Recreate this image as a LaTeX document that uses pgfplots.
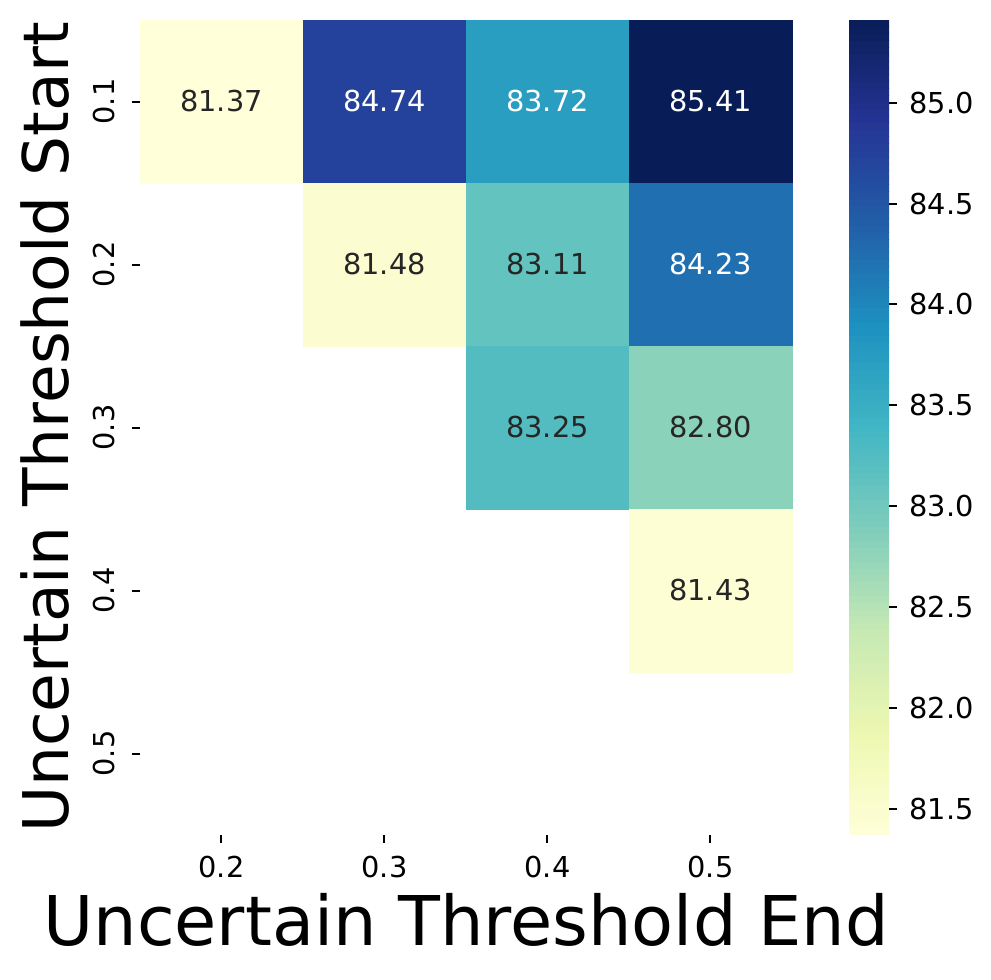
\documentclass[border=0pt]{standalone}
\usepackage{fontspec}
\setmainfont{DejaVu Sans}
\usepackage{pgfplots}
\pgfplotsset{compat=1.18}

% seaborn YlGnBu
\pgfplotsset{
  colormap={ylgnbu}{rgb255=(255,255,217) rgb255=(237,248,177) rgb255=(199,233,180)
    rgb255=(127,205,187) rgb255=(65,182,196) rgb255=(29,145,192) rgb255=(34,94,168)
    rgb255=(37,52,148) rgb255=(8,29,88)}
}
\definecolor{annodark}{RGB}{38,38,38}
\newcommand{\tickfont}{\fontsize{14.4}{17}\selectfont}

\pgfplotstableread{
x y v
1 5 81.37
2 5 84.74
3 5 83.72
4 5 85.41
2 4 81.48
3 4 83.11
4 4 84.23
3 3 83.25
4 3 82.80
4 2 81.43
}\cells

\begin{document}
\begin{tikzpicture}
\begin{axis}[
  scale only axis,
  width=326pt, height=407.5pt,
  xmin=0.5, xmax=4.5, ymin=0.5, ymax=5.5,
  clip=false,
  axis x line*=bottom, axis y line*=left,
  axis line style={draw=none},
  tick align=outside,
  major tick length=4pt,
  tick style={black, line width=1pt},
  xtick={1,2,3,4}, xticklabels={0.2,0.3,0.4,0.5},
  ytick={1,2,3,4,5}, yticklabels={0.5,0.4,0.3,0.2,0.1},
  xticklabel style={font=\tickfont, anchor=north, inner sep=0pt, yshift=-6.5pt},
  yticklabel style={font=\tickfont, xshift=-8.5pt, rotate=90, anchor=south, inner sep=0pt},
  xlabel={Uncertain Threshold End},
  ylabel={Uncertain Threshold Start},
  xlabel style={font=\fontsize{34.3}{40}\selectfont, at={(axis description cs:0.5,-0.135)}, anchor=base, inner sep=0pt},
  ylabel style={font=\fontsize{31.5}{37}\selectfont, at={(axis description cs:-0.1104,0.5)}, anchor=base, inner sep=0pt},
  colormap name=ylgnbu,
  point meta min=81.37, point meta max=85.41,
  colorbar sampled,
  colorbar style={
    at={(parent axis.north east)}, anchor=north west, xshift=20pt,
    scale only axis, width=20pt, height=407.5pt,
    samples=120,
    axis line style={draw=none},
    ytick={81.5,82,82.5,83,83.5,84,84.5,85},
    ytick pos=right,
    tick align=outside, major tick length=4pt,
    tick style={black, line width=1pt},
    yticklabel style={font=\tickfont, anchor=west, inner sep=0pt, xshift=6pt,
      /pgf/number format/.cd, fixed, fixed zerofill, precision=1, assume math mode=true},
  },
]
% heatmap cells
\addplot[scatter, only marks, mark=square*, mark size=40.75pt,
  scatter/use mapped color={draw=mapped color, fill=mapped color},
  point meta=explicit]
  table[x=x, y=y, meta=v] {\cells};
% annotations, dark text
\addplot[draw=none, mark=none, point meta=explicit symbolic,
  nodes near coords={\pgfplotspointmeta},
  nodes near coords style={anchor=center, text=annodark, font=\tickfont}]
  table[meta=v] {
x y v
1 5 81.37
2 4 81.48
3 4 83.11
3 3 83.25
4 3 82.80
4 2 81.43
};
% annotations, white text
\addplot[draw=none, mark=none, point meta=explicit symbolic,
  nodes near coords={\pgfplotspointmeta},
  nodes near coords style={anchor=center, text=white, font=\tickfont}]
  table[meta=v] {
x y v
2 5 84.74
3 5 83.72
4 5 85.41
4 4 84.23
};
\path (rel axis cs:0,0) ++(-70pt,-72.5pt) rectangle ++(495.5pt,490pt);
\end{axis}
\end{tikzpicture}
\end{document}
